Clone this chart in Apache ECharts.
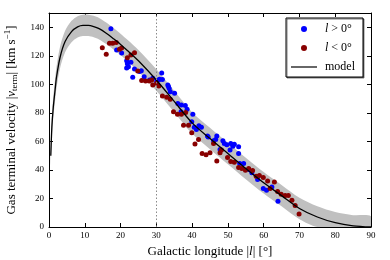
<!DOCTYPE html>
<html><head><meta charset="utf-8">
<script src="https://cdn.jsdelivr.net/npm/echarts@6/dist/echarts.min.js"></script>
<style>html,body{margin:0;padding:0;background:#fff}#c{width:390px;height:260px}</style>
</head><body><div id="c"></div>
<script>
// Data
const posData = [[17.3,139],[18.9,124],[20.3,122],[21.7,116.6],[21.9,114.5],[22.2,112.4],[21.7,111.5],[22.9,115.5],[23.4,105],[23.9,110.7],[25.3,109],[25.8,109.5],[26.6,105.3],[28.1,103],[29,104.2],[30.1,101.8],[30.6,103],[30.9,103.5],[31.5,108],[31.7,103.4],[33.2,99.5],[33.4,98.4],[33.6,97],[33.9,94.8],[35.1,93.7],[36,86.6],[37,85.5],[38.1,85.2],[38.6,82.6],[36.9,80.8],[40.2,79],[39.9,73.7],[40.6,70],[41.2,68.3],[41.9,71],[42.6,70],[44.3,63.7],[44.5,63],[46,60.4],[46.6,61.4],[46.9,63.7],[47.8,54.3],[48.6,60.4],[49,58.5],[49.7,57.6],[50.8,58.5],[51.4,56.6],[51.8,58],[53,56.2],[53,51.5],[50.6,53.9],[53.3,44.5],[54.4,44.5],[55.8,40.3],[56.7,38],[58.3,33.3],[59.9,27],[60.8,25.8],[62.3,28.1],[64,18]];
const negData = [[14.9,125.7],[16,121],[16.9,128.8],[17.8,128.8],[18.8,129.3],[19.7,124.6],[20.3,125.4],[21.9,118.7],[22.9,120.6],[23.9,122.2],[24.8,109.3],[25.9,102.6],[27,102.3],[28,102.3],[28.7,103],[29,99.5],[30.1,100.7],[30.7,98.9],[31.7,91.8],[32.9,91],[33.9,89.5],[34.8,80.8],[35.9,79],[37,79],[38.2,80.2],[37.6,71.4],[39,71.4],[39.9,66],[40.8,58.1],[41.8,61.4],[42.8,51.5],[43.9,50.6],[45,52],[46,58.6],[46.9,46.3],[47.8,52],[48.2,53.9],[49.9,48.7],[50.8,45.9],[51.8,45.4],[53,41.7],[53.9,41],[54.9,39.8],[55.8,41],[56.9,39.6],[57.9,35.6],[58.8,36.1],[59.9,34.7],[61.1,32.3],[61.8,26.9],[63,31.6],[63.9,24.9],[64.9,23],[66,22.1],[66.9,22.1],[67.9,18.8],[68.8,15],[69.9,9.1]];
const modelL = [0.5,0.8,1.2,1.7,2.1,3.1,4.5,6.3,8,9.5,11,12.5,14,16,18,20,22,25,30,35,40,45,50,55,60,65,70,75,80,85,90];
const modelV = [50,70,84,96,105,119,130,137,140.3,141.3,141.3,140.5,139,135.8,132,128,123.5,116.5,103,88,73,62,51.5,41,31,22,13,7,3,0.8,0];
const bandHalf = 7.5;
const xTicks = {min:0, max:90, interval:10};
const yTicks = {min:0, max:150, interval:20};

const model = modelL.map((l,i)=>[l, modelV[i]]);
const upperPts = modelL.map((l,i)=>[l, modelV[i]+bandHalf]);
const lowerPts = modelL.map((l,i)=>[l, Math.max(0, modelV[i]-bandHalf)]);

const FONT = '"Liberation Serif", "DejaVu Serif", serif';
const chart = echarts.init(document.getElementById('c'), null, {renderer:'canvas'});
const baseAxis = {
  axisLine:{show:true, onZero:false, lineStyle:{color:'#000', width:1}},
  axisTick:{show:true, inside:true, length:4, lineStyle:{color:'#000'}},
  splitLine:{show:false}
};
chart.setOption({
  animation:false,
  backgroundColor:'#fff',
  grid:{left:49, right:19, top:13, bottom:33, containLabel:false, outerBoundsMode:'none'},
  legend:{
    left:286, top:18, orient:'vertical',
    padding:[5,8,4,5], itemGap:7, itemWidth:26, itemHeight:6,
    backgroundColor:'#fff', borderColor:'#000', borderWidth:1,
    shadowColor:'rgba(0,0,0,0.5)', shadowOffsetX:1, shadowOffsetY:1,
    textStyle:{fontFamily:FONT, fontSize:12, color:'#000',
      rich:{i:{fontFamily:FONT, fontStyle:'italic', fontSize:12}, t:{fontFamily:FONT, fontSize:12}}},
    formatter: n => n==='pos' ? ' {i|l} {t|> 0°}' : n==='neg' ? ' {i|l} {t|< 0°}' : ' {t|model}',
    data:[{name:'pos', icon:'circle'},{name:'neg', icon:'circle'},{name:'model', icon:'path://M0,0 L26,0 L26,1.2 L0,1.2 Z'}]
  },
  xAxis:[
    Object.assign({type:'value', position:'bottom', min:xTicks.min, max:xTicks.max, interval:xTicks.interval,
      axisLabel:{fontFamily:FONT, fontSize:9, color:'#000', margin:4},
      name:'Galactic longitude |{i|l}| [°]', nameLocation:'middle', nameGap:12,
      nameTextStyle:{fontFamily:FONT, fontSize:13, color:'#000', rich:{i:{fontFamily:FONT, fontStyle:'italic', fontSize:13}}}
    }, baseAxis),
    Object.assign({type:'value', position:'top', min:xTicks.min, max:xTicks.max, interval:xTicks.interval,
      axisLabel:{show:false}}, baseAxis)
  ],
  yAxis:[
    Object.assign({type:'value', position:'left', min:yTicks.min, max:yTicks.max, interval:yTicks.interval,
      axisLabel:{fontFamily:FONT, fontSize:9, color:'#000', margin:5, showMaxLabel:false},
      name:'{a|Gas terminal velocity |}{i|v}{s|term}{a|| [km s}{p|−1}{a|]}', nameLocation:'middle', nameGap:22,
      nameTextStyle:{fontFamily:FONT, fontSize:13, color:'#000',
        rich:{a:{fontFamily:FONT, fontSize:13, lineHeight:16, verticalAlign:'middle'},
              i:{fontFamily:FONT, fontStyle:'italic', fontSize:13, lineHeight:16, verticalAlign:'middle'},
              s:{fontFamily:FONT, fontSize:9, lineHeight:16, verticalAlign:'bottom'},
              p:{fontFamily:FONT, fontSize:9, lineHeight:16, verticalAlign:'top'}}}
    }, baseAxis),
    Object.assign({type:'value', position:'right', min:yTicks.min, max:yTicks.max, interval:yTicks.interval,
      axisLabel:{show:false}}, baseAxis)
  ],
  series:[
    {name:'band', type:'custom', silent:true, z:1, clip:true,
      data:[[0,0]],
      renderItem:(params, api) => {
        const up = upperPts.map(p => api.coord(p));
        const lo = lowerPts.slice().reverse().map(p => api.coord(p));
        return {type:'polygon', shape:{points: up.concat(lo), smooth:0.3}, style:{fill:'#c0c0c0'}};
      },
      markLine:{silent:true, symbol:'none', label:{show:false}, lineStyle:{color:'#8a8a8a', type:[1.5,2], width:1}, data:[{xAxis:30}]}},
    {name:'pos', type:'scatter', data:posData, symbolSize:5, itemStyle:{color:'#0000ff', opacity:1}, z:3},
    {name:'neg', type:'scatter', data:negData, symbolSize:5, itemStyle:{color:'#880000', opacity:1}, z:3},
    {name:'model', type:'line', data:model, symbol:'none', showSymbol:false, smooth:0.3, lineStyle:{color:'#000', width:1.3}, itemStyle:{color:'#000'}, z:4}
  ]
});
</script></body></html>
